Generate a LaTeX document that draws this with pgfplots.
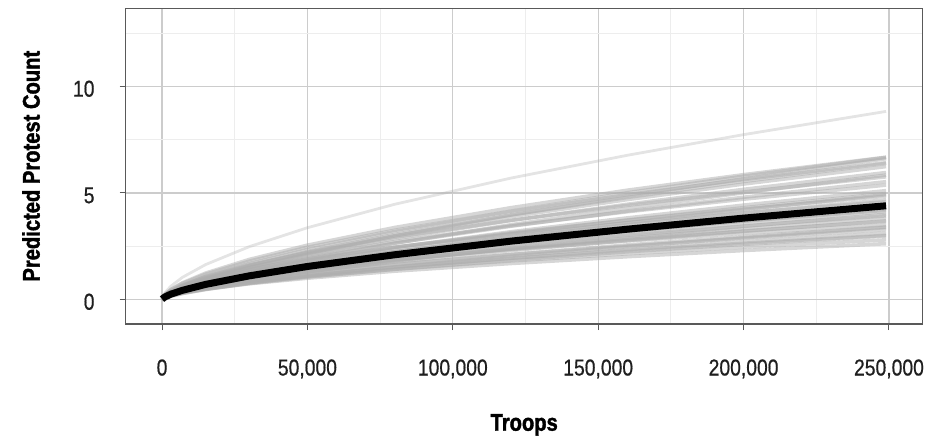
\documentclass[border=0pt]{standalone}
\usepackage{pgfplots}
\pgfplotsset{compat=1.18}
\usepackage{fontspec}
\setmainfont{Liberation Sans}[FakeStretch=0.84, UprightFeatures={FakeBold=0.6}, BoldFeatures={FakeBold=1.6}]
\newcommand{\gl}[1]{\addplot[grayline] coordinates {#1};}
\begin{document}
\begin{tikzpicture}
\useasboundingbox (0,0) rectangle (928bp,442bp);
\begin{axis}[
  at={(125.7bp,118bp)}, anchor=south west,
  width=797bp, height=315.7bp, scale only axis,
  xmin=-12.5, xmax=261.6, ymin=-1.15, ymax=13.67,
  xtick={0,50,100,150,200,250},
  xticklabels={0,{50,000},{100,000},{150,000},{200,000},{250,000}},
  minor xtick={25,75,125,175,225},
  ytick={0,5,10}, yticklabels={0,5,10},
  minor ytick={2.5,7.5,12.5},
  grid=both,
  major grid style={draw=black!20, line width=1.1bp},
  minor grid style={draw=black!7, line width=0.9bp},
  axis line style={draw=black!65, line width=1.2bp},
  tick align=outside, major tick length=6bp, minor tick length=0pt,
  tick style={draw=black!65, line width=1bp},
  xtick pos=bottom, ytick pos=left,
  tick label style={font=\fontsize{23bp}{27bp}\selectfont, text=black!88, inner sep=0pt},
  xticklabel style={anchor=base, yshift=-45.5bp},
  yticklabel style={anchor=base east, xshift=-25bp, yshift=-10.2bp},
  xlabel={Troops},
  ylabel={Predicted Protest Count},
  xlabel style={at={(axis description cs:0.5,-0.338)}, anchor=base, font=\bfseries\fontsize{24bp}{28bp}\selectfont},
  ylabel style={at={(axis description cs:-0.108,0.5)}, anchor=base, rotate=0, font=\bfseries\fontsize{24bp}{28bp}\selectfont},
  grayline/.style={draw=gray!64, draw opacity=0.5, line width=3.6bp},
]
\gl{(0,0.02)(1,0.19)(3,0.38)(7,0.65)(15,1.07)(30,1.69)(50,2.35)(80,3.19)(120,4.15)(160,5.01)(200,5.79)(249,6.67)}
\gl{(0,0.02)(1,0.24)(3,0.47)(7,0.78)(15,1.24)(30,1.88)(50,2.55)(80,3.38)(120,4.31)(160,5.13)(200,5.86)(249,6.68)}
\gl{(0,0.02)(1,0.14)(3,0.30)(7,0.54)(15,0.93)(30,1.50)(50,2.15)(80,2.99)(120,3.97)(160,4.85)(200,5.67)(249,6.61)}
\gl{(0,0.02)(1,0.18)(3,0.36)(7,0.63)(15,1.03)(30,1.61)(50,2.25)(80,3.05)(120,3.97)(160,4.79)(200,5.54)(249,6.39)}
\gl{(0,0.02)(1,0.23)(3,0.45)(7,0.75)(15,1.19)(30,1.80)(50,2.45)(80,3.25)(120,4.14)(160,4.92)(200,5.63)(249,6.42)}
\gl{(0,0.02)(1,0.17)(3,0.35)(7,0.61)(15,1.01)(30,1.58)(50,2.20)(80,2.99)(120,3.89)(160,4.69)(200,5.42)(249,6.24)}
\gl{(0,0.02)(1,0.17)(3,0.34)(7,0.59)(15,0.96)(30,1.51)(50,2.10)(80,2.85)(120,3.71)(160,4.47)(200,5.17)(249,5.96)}
\gl{(0,0.02)(1,0.12)(3,0.27)(7,0.48)(15,0.82)(30,1.33)(50,1.90)(80,2.64)(120,3.51)(160,4.29)(200,5.01)(249,5.84)}
\gl{(0,0.02)(1,0.21)(3,0.41)(7,0.68)(15,1.07)(30,1.62)(50,2.20)(80,2.92)(120,3.72)(160,4.42)(200,5.05)(249,5.76)}
\gl{(0,0.02)(1,0.15)(3,0.31)(7,0.54)(15,0.89)(30,1.40)(50,1.95)(80,2.65)(120,3.44)(160,4.15)(200,4.80)(249,5.53)}
\gl{(0,0.02)(1,0.20)(3,0.38)(7,0.63)(15,1.00)(30,1.51)(50,2.05)(80,2.72)(120,3.46)(160,4.12)(200,4.71)(249,5.37)}
\gl{(0,0.02)(1,0.14)(3,0.29)(7,0.50)(15,0.82)(30,1.29)(50,1.80)(80,2.44)(120,3.18)(160,3.83)(200,4.43)(249,5.11)}
\gl{(0,0.02)(1,0.10)(3,0.22)(7,0.40)(15,0.69)(30,1.12)(50,1.60)(80,2.22)(120,2.95)(160,3.61)(200,4.22)(249,4.92)}
\gl{(0,0.02)(1,0.14)(3,0.28)(7,0.49)(15,0.80)(30,1.26)(50,1.75)(80,2.37)(120,3.09)(160,3.73)(200,4.31)(249,4.97)}
\gl{(0,0.02)(1,0.18)(3,0.34)(7,0.57)(15,0.90)(30,1.36)(50,1.85)(80,2.45)(120,3.13)(160,3.72)(200,4.25)(249,4.85)}
\gl{(0,0.02)(1,0.13)(3,0.27)(7,0.46)(15,0.75)(30,1.18)(50,1.65)(80,2.24)(120,2.91)(160,3.51)(200,4.06)(249,4.68)}
\gl{(0,0.02)(1,0.22)(3,0.40)(7,0.64)(15,0.98)(30,1.43)(50,1.90)(80,2.46)(120,3.07)(160,3.60)(200,4.07)(249,4.59)}
\gl{(0,0.02)(1,0.16)(3,0.31)(7,0.52)(15,0.83)(30,1.25)(50,1.70)(80,2.25)(120,2.87)(160,3.42)(200,3.90)(249,4.45)}
\gl{(0,0.02)(1,0.09)(3,0.20)(7,0.37)(15,0.62)(30,1.01)(50,1.45)(80,2.02)(120,2.68)(160,3.27)(200,3.83)(249,4.46)}
\gl{(0,0.02)(1,0.12)(3,0.24)(7,0.42)(15,0.69)(30,1.08)(50,1.50)(80,2.04)(120,2.65)(160,3.20)(200,3.69)(249,4.26)}
\gl{(0,0.02)(1,0.15)(3,0.30)(7,0.49)(15,0.78)(30,1.18)(50,1.60)(80,2.12)(120,2.70)(160,3.22)(200,3.68)(249,4.19)}
\gl{(0,0.02)(1,0.11)(3,0.23)(7,0.40)(15,0.66)(30,1.04)(50,1.45)(80,1.97)(120,2.56)(160,3.09)(200,3.57)(249,4.12)}
\gl{(0,0.02)(1,0.08)(3,0.18)(7,0.33)(15,0.56)(30,0.91)(50,1.30)(80,1.81)(120,2.40)(160,2.93)(200,3.43)(249,4.00)}
\gl{(0,0.02)(1,0.14)(3,0.28)(7,0.46)(15,0.73)(30,1.10)(50,1.50)(80,1.99)(120,2.54)(160,3.02)(200,3.45)(249,3.93)}
\gl{(0,0.02)(1,0.11)(3,0.22)(7,0.38)(15,0.62)(30,0.97)(50,1.35)(80,1.83)(120,2.38)(160,2.88)(200,3.32)(249,3.83)}
\gl{(0,0.02)(1,0.10)(3,0.21)(7,0.36)(15,0.59)(30,0.93)(50,1.30)(80,1.76)(120,2.30)(160,2.77)(200,3.20)(249,3.69)}
\gl{(0,0.02)(1,0.13)(3,0.26)(7,0.43)(15,0.68)(30,1.03)(50,1.40)(80,1.86)(120,2.37)(160,2.81)(200,3.22)(249,3.67)}
\gl{(0,0.02)(1,0.17)(3,0.31)(7,0.49)(15,0.75)(30,1.09)(50,1.45)(80,1.88)(120,2.35)(160,2.75)(200,3.11)(249,3.51)}
\gl{(0,0.02)(1,0.09)(3,0.19)(7,0.33)(15,0.55)(30,0.86)(50,1.20)(80,1.63)(120,2.12)(160,2.56)(200,2.95)(249,3.41)}
\gl{(0,0.02)(1,0.07)(3,0.15)(7,0.28)(15,0.47)(30,0.77)(50,1.10)(80,1.53)(120,2.03)(160,2.48)(200,2.90)(249,3.38)}
\gl{(0,0.02)(1,0.12)(3,0.23)(7,0.38)(15,0.61)(30,0.92)(50,1.25)(80,1.66)(120,2.11)(160,2.51)(200,2.87)(249,3.28)}
\gl{(0,0.02)(1,0.09)(3,0.18)(7,0.31)(15,0.50)(30,0.79)(50,1.10)(80,1.49)(120,1.94)(160,2.34)(200,2.71)(249,3.12)}
\gl{(0,0.02)(1,0.11)(3,0.21)(7,0.35)(15,0.56)(30,0.85)(50,1.15)(80,1.52)(120,1.94)(160,2.31)(200,2.64)(249,3.01)}
\gl{(0,0.02)(1,0.08)(3,0.17)(7,0.29)(15,0.48)(30,0.75)(50,1.05)(80,1.42)(120,1.85)(160,2.24)(200,2.59)(249,2.98)}
\gl{(0,0.02)(1,0.10)(3,0.20)(7,0.33)(15,0.52)(30,0.79)(50,1.07)(80,1.42)(120,1.81)(160,2.15)(200,2.46)(249,2.80)}
\gl{(0,0.02)(1,0.10)(3,0.18)(7,0.31)(15,0.49)(30,0.74)(50,1.00)(80,1.33)(120,1.69)(160,2.01)(200,2.30)(249,2.62)}
% outlier draw
\addplot[draw=gray!60, draw opacity=0.35, line width=2.8bp] coordinates {(0,0.02)(1,0.32)(3,0.62)(7,1.04)(15,1.64)(30,2.48)(50,3.37)(80,4.47)(120,5.70)(160,6.77)(200,7.74)(249,8.83)};
% mean
\addplot[draw=black, line width=7bp] coordinates {(0,0.02)(1,0.12)(3,0.25)(7,0.43)(15,0.71)(30,1.11)(50,1.55)(80,2.10)(120,2.74)(160,3.30)(200,3.82)(249,4.40)};
\end{axis}
\end{tikzpicture}
\end{document}
